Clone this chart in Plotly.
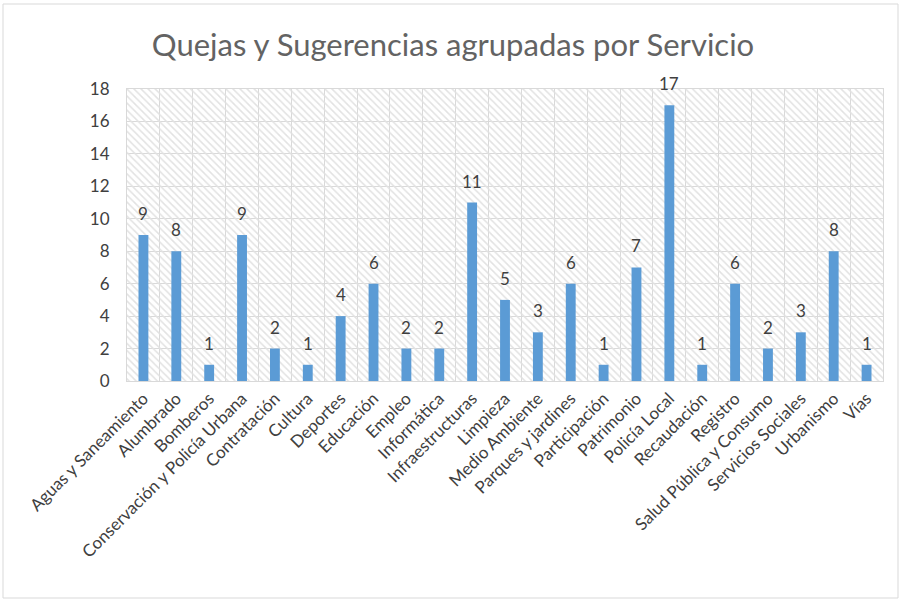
import plotly.graph_objects as go

categories = ["Aguas y Saneamiento", "Alumbrado", "Bomberos", "Conservación y Policía Urbana",
              "Contratación", "Cultura", "Deportes", "Educación", "Empleo", "Informática",
              "Infraestructuras", "Limpieza", "Medio Ambiente", "Parques y jardines",
              "Participación", "Patrimonio", "Policía Local", "Recaudación", "Registro",
              "Salud Pública y Consumo", "Servicios Sociales", "Urbanismo", "Vías"]
values = [9, 8, 1, 9, 2, 1, 4, 6, 2, 2, 11, 5, 3, 6, 1, 7, 17, 1, 6, 2, 3, 8, 1]
y_max = 18
y_ticks = [0, 2, 4, 6, 8, 10, 12, 14, 16, 18]

W, H = 906, 603
L, R, T, B = 127, 23, 89, 222
pw, ph = W - L - R, H - T - B

fig = go.Figure()
# hatched plot-area background
fig.add_trace(go.Bar(
    x=categories, y=[y_max] * len(categories), width=1,
    marker=dict(color="#e2e2e2", line=dict(width=0),
                pattern=dict(shape="\\", size=5, solidity=0.3, fillmode="replace")),
    hoverinfo="skip", showlegend=False))
fig.add_trace(go.Bar(
    x=categories, y=values, width=0.3,
    marker=dict(color="#5B9BD5", line=dict(width=0)),
    showlegend=False))

annotations = [dict(x=c, y=v, xref="x", yref="y", text=str(v), showarrow=False,
                    yanchor="bottom", yshift=9,
                    font=dict(family="Lato", size=17, color="#404040"))
               for c, v in zip(categories, values)]

fig.update_layout(
    width=W, height=H, barmode="overlay",
    margin=dict(l=L, r=R, t=T, b=B, autoexpand=False),
    paper_bgcolor="white", plot_bgcolor="white",
    font=dict(family="Lato", color="#595959"),
    title=dict(text="Quejas y Sugerencias agrupadas por Servicio",
               x=0.5, xanchor="center", y=1 - 45 / H, yanchor="middle",
               font=dict(family="Lato", size=31, color="#636363")),
    xaxis=dict(tickangle=-45, tickson="boundaries", showgrid=True, gridcolor="#d9d9d9",
               gridwidth=1, ticks="", showline=True, linecolor="#d9d9d9", automargin=False,
               mirror=True, tickfont=dict(size=17, color="#404040")),
    yaxis=dict(range=[0, y_max], tickvals=y_ticks, showgrid=True, gridcolor="#d9d9d9",
               gridwidth=1, zeroline=False, ticks="", showline=True, linecolor="#d9d9d9",
               mirror=True, automargin=False, tickfont=dict(size=17, color="#404040"),
               ticklabelstandoff=13),
    annotations=annotations,
    shapes=[dict(type="rect", xref="paper", yref="paper",
                 x0=(3 - L) / pw, x1=(898 - L) / pw,
                 y0=(T + ph - 598) / ph, y1=(T + ph - 4) / ph,
                 line=dict(color="#d9d9d9", width=1), fillcolor="rgba(0,0,0,0)",
                 layer="below")],
)

fig.write_html("out.html", config={"displayModeBar": False},
               post_script="document.body.style.margin='0';document.body.style.overflow='hidden';")
